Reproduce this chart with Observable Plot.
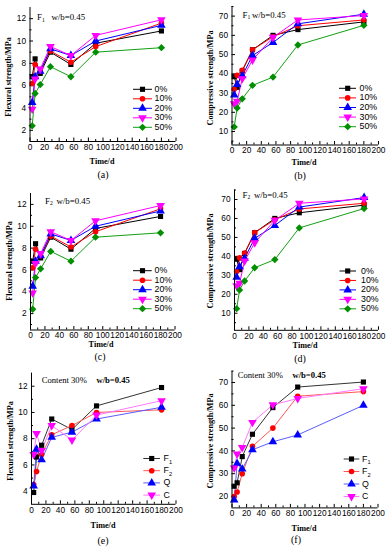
<!DOCTYPE html>
<html><head><meta charset="utf-8">
<script src="https://cdn.jsdelivr.net/npm/d3@7"></script>
<script src="https://cdn.jsdelivr.net/npm/@observablehq/plot@0.6"></script>
<style>
body{margin:0;background:#fff;}
#root{position:relative;width:392px;height:550px;overflow:hidden;background:#fff;}
</style></head><body><div id="root"></div>
<script>
// ---- data ----
const days = [3, 7, 14, 28, 56, 90, 180];
const xTicks = [0, 20, 40, 60, 80, 100, 120, 140, 160, 180, 200];
const xMinor = [10, 30, 50, 70, 90, 110, 130, 150, 170, 190];
const flexTicks = [2, 4, 6, 8, 10, 12];
const flexTicksE = [4, 6, 8, 10, 12];
const compTicks = [10, 20, 30, 40, 50, 60, 70];
const compTicksF = [20, 30, 40, 50, 60, 70];
const contentLabels = ["0%", "10%", "20%", "30%", "50%"];
const binderLabels = ["F1", "F2", "Q", "C"];

// (a) F1 flexural
const flexF1_0  = [6.8, 8.4, 7.1, 9.0, 7.9, 9.8, 10.9];
const flexF1_10 = [6.2, 7.9, 7.3, 9.1, 8.1, 9.5, 11.6];
const flexF1_20 = [4.5, 6.8, 7.3, 9.3, 8.7, 10.0, 11.4];
const flexF1_30 = [3.9, 6.6, 7.5, 9.5, 8.7, 10.5, 11.9];
const flexF1_50 = [2.4, 5.3, 6.1, 7.7, 6.8, 9.0, 9.4];
// (b) F1 compressive
const compF1_0  = [38.5, 33.0, 41.5, 52.5, 60.0, 63.0, 67.0];
const compF1_10 = [32.0, 39.2, 41.8, 52.5, 59.3, 65.0, 68.0];
const compF1_20 = [29.0, 34.5, 39.0, 49.5, 56.3, 66.0, 71.0];
const compF1_30 = [24.5, 25.8, 37.5, 47.2, 59.0, 68.0, 70.3];
const compF1_50 = [12.4, 22.2, 27.0, 34.0, 38.3, 55.0, 65.2];
// (c) F2 flexural
const flexF2_0  = [6.8, 8.4, 7.1, 9.0, 7.9, 9.8, 10.9];
const flexF2_10 = [6.2, 7.9, 7.3, 9.1, 8.1, 9.5, 11.6];
const flexF2_20 = [4.5, 6.8, 7.3, 9.3, 8.7, 10.0, 11.4];
const flexF2_30 = [3.9, 6.6, 7.5, 9.5, 8.7, 10.5, 11.9];
const flexF2_50 = [2.4, 5.3, 6.1, 7.7, 6.8, 9.0, 9.4];
// (d) F2 compressive
const compF2_0  = [38.5, 33.0, 41.5, 52.5, 60.0, 63.0, 67.0];
const compF2_10 = [32.0, 39.2, 41.8, 52.5, 59.3, 65.0, 68.0];
const compF2_20 = [29.0, 34.5, 39.0, 49.5, 56.3, 66.0, 71.0];
const compF2_30 = [24.5, 25.8, 37.5, 47.2, 59.0, 68.0, 70.3];
const compF2_50 = [12.4, 22.2, 27.0, 34.0, 38.3, 55.0, 65.2];
// (e) content 30% flexural
const flex30_F1 = [3.9, 6.6, 7.5, 9.5, 8.7, 10.5, 11.9];
const flex30_F2 = [4.5, 5.5, 6.8, 8.3, 9.0, 10.0, 10.2];
const flex30_Q  = [4.4, 7.2, 6.4, 8.1, 8.5, 9.5, 10.4];
const flex30_C  = [6.8, 8.4, 7.1, 9.0, 7.9, 9.8, 10.9];
// (f) content 30% compressive
const comp30_F1 = [24.5, 26.0, 37.5, 47.3, 59.0, 68.0, 70.2];
const comp30_F2 = [20.0, 22.0, 30.0, 42.0, 50.0, 64.0, 66.0];
const comp30_Q  = [18.5, 34.5, 32.0, 40.5, 44.0, 47.0, 60.0];
const comp30_C  = [32.5, 38.6, 41.5, 52.5, 60.2, 63.0, 67.3];

// ---- styles ----
const sty5 = [
  {color: "#000000", line: "#000000", symbol: "square", r: 2.9, rotate: 0},
  {color: "#ff0000", line: "#ff0000", symbol: "circle", r: 2.8, rotate: 0},
  {color: "#0000ff", line: "#0000ff", symbol: "triangle", r: 3.2, rotate: 0},
  {color: "#ff00ff", line: "#ff00ff", symbol: "triangle", r: 3.2, rotate: 180},
  {color: "#008f00", line: "#11a011", symbol: "diamond2", r: 3.3, rotate: 0}
];
const sty4 = [
  {color: "#000000", line: "#333333", symbol: "square", r: 2.9, rotate: 0},
  {color: "#ff0000", line: "#ff5555", symbol: "circle", r: 2.8, rotate: 0},
  {color: "#0000ff", line: "#5a5aff", symbol: "triangle", r: 3.2, rotate: 0},
  {color: "#ff00ff", line: "#ff77ff", symbol: "triangle", r: 3.2, rotate: 180}
];

const root = document.getElementById("root");
const SANS = "'Liberation Sans', Arial, sans-serif";
const SERIF = "'Liberation Serif', 'Times New Roman', serif";

function panel(cfg) {
  const W = 196;
  const H = cfg.yBot - cfg.top + 16;
  const fw = cfg.x1 - cfg.x0, fh = cfg.yBot - cfg.yTop;
  const marks = [
    Plot.tickX(xTicks, {x: d => d, insetTop: fh - 3.5, stroke: "#000"}),
    Plot.tickX(xMinor, {x: d => d, insetTop: fh - 2, stroke: "#000"}),
    Plot.tickY(cfg.ticks, {y: d => d, insetRight: fw - 3.5, stroke: "#000"}),
    Plot.tickY(cfg.minor, {y: d => d, insetRight: fw - 2, stroke: "#000"})
  ];
  cfg.series.forEach((vals, k) => {
    const s = cfg.styles[k];
    const rows = days.map((d, i) => ({day: d, value: vals[i]}));
    marks.push(Plot.line(rows, {x: "day", y: "value", stroke: s.line, strokeWidth: 1}));
  });
  cfg.series.forEach((vals, k) => {
    const s = cfg.styles[k];
    const rows = days.map((d, i) => ({day: d, value: vals[i]}));
    marks.push(Plot.dot(rows, {x: "day", y: "value", symbol: s.symbol, fill: s.color, stroke: "none", r: s.r, rotate: s.rotate}));
  });
  marks.push(Plot.ruleY([cfg.domain[0]], {stroke: "#000", strokeWidth: 1}));
  marks.push(Plot.ruleX([0], {stroke: "#000", strokeWidth: 1}));
  const svg = Plot.plot({
    width: W, height: H,
    marginLeft: cfg.x0 - cfg.left, marginRight: cfg.left + W - cfg.x1,
    marginTop: cfg.yTop - cfg.top, marginBottom: H - (cfg.yBot - cfg.top),
    x: {domain: [0, 200], ticks: xTicks, tickSize: 0, tickPadding: 2.5, label: null},
    y: {domain: cfg.domain, ticks: cfg.ticks, tickSize: 0, tickPadding: 4, label: null},
    style: {background: "transparent", overflow: "visible", fontFamily: SANS, fontSize: "8.3px", color: "#000"},
    marks
  });
  svg.style.position = "absolute";
  svg.style.left = cfg.left + "px";
  svg.style.top = cfg.top + "px";
  root.appendChild(svg);
}

panel({left: 0, top: 0, x0: 29.5, x1: 175.5, yTop: 7, yBot: 141, domain: [1, 13],
  ticks: flexTicks, minor: [3, 5, 7, 9, 11], styles: sty5,
  series: [flexF1_0, flexF1_10, flexF1_20, flexF1_30, flexF1_50]});
panel({left: 196, top: 0, x0: 231.5, x1: 378, yTop: 6, yBot: 144.5, domain: [3, 75],
  ticks: compTicks, minor: [5, 15, 25, 35, 45, 55, 65, 75], styles: sty5,
  series: [compF1_0, compF1_10, compF1_20, compF1_30, compF1_50]});
panel({left: 0, top: 180, x0: 30, x1: 174.5, yTop: 193, yBot: 329.5, domain: [0.5, 13],
  ticks: flexTicks, minor: [1, 3, 5, 7, 9, 11], styles: sty5,
  series: [flexF2_0, flexF2_10, flexF2_20, flexF2_30, flexF2_50]});
panel({left: 196, top: 180, x0: 234, x1: 378, yTop: 189.5, yBot: 329.8, domain: [1, 75],
  ticks: compTicks, minor: [5, 15, 25, 35, 45, 55, 65, 75], styles: sty5,
  series: [compF2_0, compF2_10, compF2_20, compF2_30, compF2_50]});
panel({left: 0, top: 360, x0: 31, x1: 175.5, yTop: 372.6, yBot: 503.8, domain: [3, 13],
  ticks: flexTicksE, minor: [5, 7, 9, 11], styles: sty4,
  series: [flex30_F1, flex30_F2, flex30_Q, flex30_C]});
panel({left: 196, top: 360, x0: 231.5, x1: 377.5, yTop: 370.6, yBot: 507.4, domain: [15, 75],
  ticks: compTicksF, minor: [25, 35, 45, 55, 65, 75], styles: sty4,
  series: [comp30_F1, comp30_F2, comp30_Q, comp30_C]});

// ---- overlay: titles, annotations, legends, captions ----
const ov = d3.select(root).append("svg")
  .attr("width", 392).attr("height", 550)
  .style("position", "absolute").style("left", "0px").style("top", "0px")
  .style("pointer-events", "none");

function txt(x, y, parts, o = {}) {
  const fs = o.size || 9;
  const t = ov.append("text").attr("x", x).attr("y", y)
    .attr("font-family", o.family || SERIF)
    .attr("font-size", fs)
    .attr("font-weight", o.weight || "normal")
    .attr("text-anchor", o.anchor || "start")
    .attr("dominant-baseline", "middle")
    .attr("fill", "#000");
  if (o.rotate) t.attr("transform", `rotate(${o.rotate},${x},${y})`);
  let pendingUp = false;
  for (const p of parts) {
    if (typeof p === "string") {
      const ts = t.append("tspan").text(p);
      if (pendingUp) { ts.attr("dy", -fs * 0.3); pendingUp = false; }
    } else if (p.sub) {
      t.append("tspan").attr("font-size", fs * 0.65).attr("dy", fs * 0.3).text(p.sub);
      pendingUp = true;
    } else {
      const ts = t.append("tspan").attr("x", p.x).attr("font-weight", p.weight || null).text(p.t);
      if (pendingUp) { ts.attr("dy", -fs * 0.3); pendingUp = false; }
    }
  }
  return t;
}

// y axis titles
const yTitles = [
  [9, 77, "Flexural strength/MPa"], [210.5, 78, "Compressive strength/MPa"],
  [9.5, 261, "Flexural strength/MPa"], [211, 261, "Compressive strength/MPa"],
  [11, 441, "Flexural strength/MPa"], [211, 441, "Compressive strength/MPa"]
];
yTitles.forEach(([x, y, s]) => txt(x, y, [s], {size: 8.2, weight: "bold", anchor: "middle", rotate: -90}));
// x axis titles
[[102, 162], [304, 163], [101, 344.5], [305, 346], [103, 526], [304, 528.5]]
  .forEach(([x, y]) => txt(x, y, ["Time/d"], {size: 8.2, weight: "bold", anchor: "middle"}));
// captions
[[103, 175.5, "(a)"], [300, 177, "(b)"], [100, 358, "(c)"], [300, 359.5, "(d)"], [103, 541.5, "(e)"], [296, 540.5, "(f)"]]
  .forEach(([x, y, s]) => txt(x, y, [s], {size: 10, anchor: "middle"}));

// annotations
txt(37, 18.3, ["F", {sub: "1"}, {t: "w/b=0.45", x: 51.5}], {size: 8.8});
txt(242.5, 15.5, ["F", {sub: "1"}, {t: "w/b=0.45", x: 252}], {size: 8.8});
txt(45, 201.7, ["F", {sub: "2"}, {t: "w/b=0.45", x: 56.5}], {size: 8.8});
txt(242.5, 195.7, ["F", {sub: "2"}, {t: "w/b=0.45", x: 254}], {size: 8.8});
txt(41.7, 381.3, ["Content 30%", {t: "w/b=0.45", x: 96.5, weight: "bold"}], {size: 8.6});
txt(237.7, 375.7, ["Content 30%", {t: "w/b=0.45", x: 292.5, weight: "bold"}], {size: 8.6});

// legends
function legend(y0, dy, lx0, lx1, mx, tx, labels, styles) {
  labels.forEach((lab, k) => {
    const s = styles[k], y = y0 + k * dy;
    ov.append("line").attr("x1", lx0).attr("x2", lx1).attr("y1", y).attr("y2", y)
      .attr("stroke", s.line).attr("stroke-width", 1);
    const types = {square: d3.symbolSquare, circle: d3.symbolCircle, triangle: d3.symbolTriangle, diamond2: d3.symbolDiamond2};
    ov.append("path").attr("d", d3.symbol(types[s.symbol], Math.PI * s.r * s.r)())
      .attr("transform", `translate(${mx},${y}) rotate(${s.rotate})`).attr("fill", s.color);
    const m = lab.match(/^F(\d)$/);
    txt(tx, y + 0.5, m ? ["F", {sub: m[1]}] : [lab], {size: 8.8, family: SANS});
  });
}
legend(89.3, 9.5, 133, 152, 142.5, 154.5, contentLabels, sty5);
legend(88.3, 9.6, 339, 356, 347.7, 359.5, contentLabels, sty5);
legend(270.7, 9.5, 133, 151.7, 142.5, 154.5, contentLabels, sty5);
legend(271, 9.45, 339.5, 356, 347.7, 361, contentLabels, sty5);
legend(458.5, 12.2, 143.3, 160, 151.7, 163.5, binderLabels, sty4);
legend(459, 12.5, 343.7, 359.3, 351.5, 362, binderLabels, sty4);
</script></body></html>
